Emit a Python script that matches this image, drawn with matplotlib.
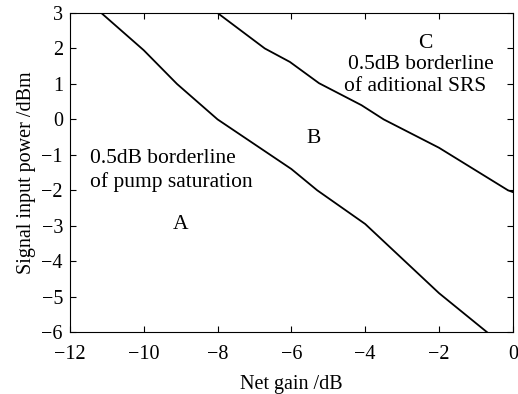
import numpy as np
import matplotlib
matplotlib.use('Agg')
import matplotlib.pyplot as plt

plt.rcParams['font.family'] = ['Liberation Serif', 'DejaVu Serif']
plt.rcParams['font.size'] = 14.5

# borderline of pump saturation (A/B)
pump_x = [-11.15, -10.0, -9.1, -8.0, -6.0, -5.3, -4.0, -2.0, -0.7]
pump_y = [3.0, 1.95, 1.0, 0.0, -1.4, -2.0, -2.95, -4.9, -6.0]

# borderline of additional SRS (B/C)
srs_x = [-8.0, -6.72, -6.04, -5.25, -4.1, -3.5, -2.0, -0.13, 0.0]
srs_y = [3.0, 2.0, 1.62, 1.02, 0.4, 0.0, -0.8, -2.0, -2.05]

xticks = [-12, -10, -8, -6, -4, -2, 0]
yticks = [-6, -5, -4, -3, -2, -1, 0, 1, 2, 3]

fig = plt.figure(figsize=(5.18, 3.94), dpi=100)
ax = fig.add_axes([0.135, 0.157, 0.855, 0.81])

ax.plot(pump_x, pump_y, color='black', lw=1.3)
ax.plot(srs_x, srs_y, color='black', lw=1.3)

ax.set_xlim(-12, 0)
ax.set_ylim(-6, 3)
ax.set_xticks(xticks)
ax.set_yticks(yticks)
ax.tick_params(direction='in', top=True, right=True, length=4, width=0.8)
ax.tick_params(axis='x', pad=9)
ax.tick_params(axis='y', pad=5)
ax.set_xlabel('Net gain /dB', labelpad=8)
ax.set_ylabel('Signal input power /dBm', labelpad=4)

fs = 15.5
ax.text(-9.0, -2.96, 'A', ha='center', va='center', fontsize=fs)
ax.text(-5.4, -0.53, 'B', ha='center', va='center', fontsize=fs)
ax.text(-2.38, 2.15, 'C', ha='center', va='center', fontsize=fs)
ax.text(-11.45, -1.1, '0.5dB borderline', ha='left', va='center', fontsize=fs)
ax.text(-11.45, -1.77, 'of pump saturation', ha='left', va='center', fontsize=fs)
ax.text(-2.5, 1.56, '0.5dB borderline', ha='center', va='center', fontsize=fs)
ax.text(-2.65, 0.94, 'of aditional SRS', ha='center', va='center', fontsize=fs)

fig.savefig('out.png', dpi=100)
